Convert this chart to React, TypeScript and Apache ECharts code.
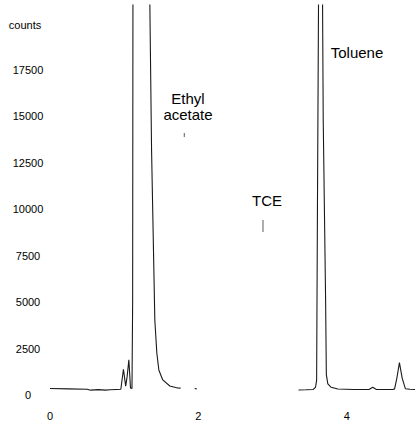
import React, { useEffect, useRef } from "react";
import * as echarts from "echarts";

// Retention time (min) and detector counts.
// null marks a break in the recorded trace.
const times: number[] = [
  0, 0.25, 0.5, 0.55, 0.65, 0.75, 0.81, 0.9, 0.955, 0.99, 1.02, 1.04, 1.063, 1.085, 1.105,
  1.114, 1.118, 1.23, 1.33, 1.346, 1.369, 1.413, 1.44, 1.467, 1.52, 1.615, 1.72, 1.76,
  1.8, 1.95, 1.98,
  2.5,
  3.35, 3.45, 3.55, 3.58, 3.594, 3.605, 3.62, 3.65, 3.674, 3.683, 3.715, 3.725, 3.745,
  3.79, 3.88, 4.1, 4.3, 4.35, 4.4, 4.62, 4.645, 4.675, 4.71, 4.748, 4.79, 4.85, 4.92,
];
const counts: (number | null)[] = [
  350, 330, 310, 260, 290, 260, 280, 300, 310, 1385, 480, 1000, 1900, 380, 350,
  5000, 21500, 40000, 30000, 21000, 13190, 4040, 2260, 1350, 810, 485, 377, 370,
  null, 350, 323,
  null,
  270, 280, 300, 430, 800, 10000, 21500, 40000, 21000, 14810, 5100, 1100, 600,
  415, 323, 300, 300, 420, 300, 300, 330, 900, 1740, 900, 340, 310, 300,
];

// Retention-time markers under the labels
const markerTimes: number[] = [1.81, 2.871];
const markerCounts: number[] = [14000, 9100];
const markerLengths: number[] = [4, 12];

const xTicks: number[] = [0, 2, 4];
const yTicks: number[] = [0, 2500, 5000, 7500, 10000, 12500, 15000, 17500];

export default function App() {
  const ref = useRef<HTMLDivElement>(null);
  useEffect(() => {
    if (!ref.current) return;
    const chart = echarts.init(ref.current, undefined, { renderer: "svg" });
    const trace = times.map((t, i) => [t, counts[i]]);
    const markers = markerTimes.map((t, i) => ({
      value: [t, markerCounts[i]],
      symbolSize: [1, markerLengths[i]],
    }));
    const font = "Liberation Sans, Arial, sans-serif";
    chart.setOption({
      animation: false,
      backgroundColor: "#ffffff",
      grid: { left: 50, right: 0, top: 5, bottom: 32, containLabel: false },
      xAxis: {
        type: "value",
        min: 0,
        max: 4.92,
        interval: 2,
        axisLine: { show: false },
        axisTick: { show: false },
        splitLine: { show: false },
        axisLabel: {
          showMaxLabel: false,
          margin: 15,
          fontSize: 11,
          fontFamily: font,
          color: "#000",
          formatter: (v: number) => (xTicks.includes(v) ? String(v) : ""),
        },
      },
      yAxis: {
        type: "value",
        min: 0,
        max: 21000,
        interval: 2500,
        axisLine: { show: false },
        axisTick: { show: false },
        splitLine: { show: false },
        axisLabel: {
          showMaxLabel: false,
          align: "center",
          margin: 22,
          fontSize: 11,
          fontFamily: font,
          color: "#000",
          formatter: (v: number) => (yTicks.includes(v) ? String(v) : ""),
        },
      },
      graphic: [
        { type: "text", x: 25, y: 25, style: { text: "counts", font: `11px ${font}`, fill: "#000", textAlign: "center", textVerticalAlign: "middle" } },
        { type: "text", x: 188, y: 98, style: { text: "Ethyl", font: `15px ${font}`, fill: "#000", textAlign: "center", textVerticalAlign: "middle" } },
        { type: "text", x: 188, y: 114, style: { text: "acetate", font: `15px ${font}`, fill: "#000", textAlign: "center", textVerticalAlign: "middle" } },
        { type: "text", x: 267, y: 200, style: { text: "TCE", font: `15px ${font}`, fill: "#000", textAlign: "center", textVerticalAlign: "middle" } },
        { type: "text", x: 357, y: 52, style: { text: "Toluene", font: `15px ${font}`, fill: "#000", textAlign: "center", textVerticalAlign: "middle" } },
      ],
      series: [
        {
          type: "line",
          data: trace,
          showSymbol: false,
          symbol: "none",
          connectNulls: false,
          clip: true,
          lineStyle: { color: "#1a1a1a", width: 1.1 },
        },
        {
          type: "scatter",
          data: markers,
          symbol: "rect",
          itemStyle: { color: "#333" },
        },
      ],
    });
    return () => chart.dispose();
  }, []);
  return (
    <div
      ref={ref}
      style={{ position: "fixed", left: 0, top: 0, width: 415, height: 427, background: "#fff" }}
    />
  );
}
